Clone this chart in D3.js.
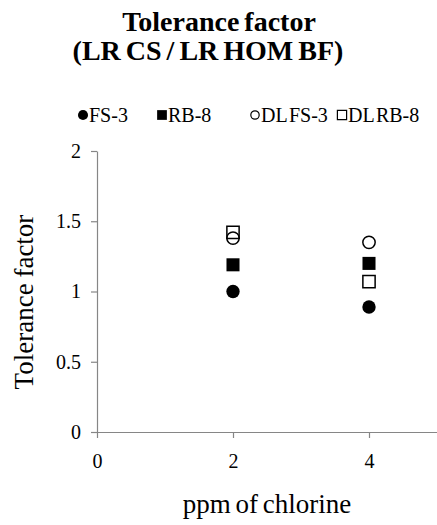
<!DOCTYPE html>
<html>
<head>
<meta charset="utf-8">
<script src="https://cdn.jsdelivr.net/npm/d3@7"></script>
</head>
<body style="margin:0">
<script>
var xVals = [2, 4];
var fs3 = [1.00, 0.89];
var rb8 = [1.19, 1.20];
var dlfs3 = [1.38, 1.35];
var dlrb8 = [1.42, 1.07];
var seriesNames = ["FS-3", "RB-8", "DL FS-3", "DL RB-8"];
var xTicks = [0, 2, 4];
var yTicks = [0, 0.5, 1, 1.5, 2];

var w = 437, h = 525;
var margin = {top: 151, right: 0, bottom: 93, left: 97};
var serif = "'Liberation Serif'";

var svg = d3.select("body").append("svg")
    .attr("width", w)
    .attr("height", h);

var x = d3.scaleLinear().domain([0, 5]).range([margin.left, w - margin.right]);
var y = d3.scaleLinear().domain([0, 2]).range([h - margin.bottom, margin.top]);

// title
svg.append("text")
    .attr("x", 219).attr("y", 31)
    .attr("text-anchor", "middle")
    .style("font-family", serif)
    .style("font-size", "28px").style("font-weight", "bold")
    .style("word-spacing", "-2px")
    .text("Tolerance factor");
svg.append("text")
    .attr("x", 208).attr("y", 60)
    .attr("text-anchor", "middle")
    .style("font-family", serif)
    .style("font-size", "28px").style("font-weight", "bold")
    .style("word-spacing", "-2px")
    .text("(LR CS / LR HOM BF)");

// axes
var grey = "#868686";
var yAxis = svg.append("g")
    .attr("transform", "translate(" + margin.left + ",0)")
    .call(d3.axisLeft(y).tickValues(yTicks).tickSize(6).tickSizeOuter(0).tickPadding(10)
      .tickFormat(d3.format("")));
var xAxis = svg.append("g")
    .attr("transform", "translate(0," + y(0) + ")")
    .call(d3.axisBottom(x).tickValues(xTicks).tickSize(6).tickSizeOuter(0).tickPadding(16)
      .tickFormat(d3.format("d")));
[xAxis, yAxis].forEach(function(a) {
  a.attr("font-family", null).attr("font-size", null);
  a.select(".domain").attr("stroke", grey).attr("stroke-width", 1.2);
  a.selectAll(".tick line").attr("stroke", grey).attr("stroke-width", 1.2);
  a.selectAll(".tick text")
    .style("font-family", serif)
    .style("font-size", "20px")
    .attr("fill", "#000");
});

// axis titles
svg.append("text")
    .attr("x", 267).attr("y", 513)
    .attr("text-anchor", "middle")
    .style("font-family", serif)
    .style("font-size", "27px")
    .style("word-spacing", "-2px")
    .text("ppm of chlorine");
svg.append("text")
    .attr("transform", "translate(33,302) rotate(-90)")
    .attr("text-anchor", "middle")
    .style("font-family", serif)
    .style("font-size", "27px")
    .style("word-spacing", "-1px")
    .text("Tolerance factor");

// markers
var styles = [
  {type: d3.symbolCircle, fill: "#000", stroke: "none", size: 140},
  {type: d3.symbolSquare, fill: "#000", stroke: "none", size: 170},
  {type: d3.symbolCircle, fill: "none", stroke: "#000", size: 120},
  {type: d3.symbolSquare, fill: "none", stroke: "#000", size: 150}
];
var allSeries = [fs3, rb8, dlfs3, dlrb8];

allSeries.forEach(function(vals, s) {
  var st = styles[s];
  svg.append("g").selectAll("path")
    .data(vals)
    .enter()
    .append("path")
    .attr("transform", function(d, i) { return "translate(" + x(xVals[i]) + "," + y(d) + ")"; })
    .attr("d", d3.symbol().type(st.type).size(st.size))
    .attr("fill", st.fill)
    .attr("stroke", st.stroke)
    .attr("stroke-width", 1.5);
});

// legend
var legX = [83, 162, 255, 342];
var legSizes = [80, 95, 55, 85];
var leg = svg.append("g").selectAll("g")
    .data(seriesNames)
    .enter()
    .append("g")
    .attr("transform", function(d, i) { return "translate(" + legX[i] + ",115)"; });
leg.append("path")
    .attr("d", function(d, i) { return d3.symbol().type(styles[i].type).size(legSizes[i])(); })
    .attr("fill", function(d, i) { return styles[i].fill; })
    .attr("stroke", function(d, i) { return styles[i].stroke; })
    .attr("stroke-width", 1.2);
leg.append("text")
    .attr("x", 6).attr("y", 7)
    .style("font-family", serif)
    .style("font-size", "20px")
    .style("word-spacing", "-3px")
    .text(function(d) { return d; });
</script>
</body>
</html>
